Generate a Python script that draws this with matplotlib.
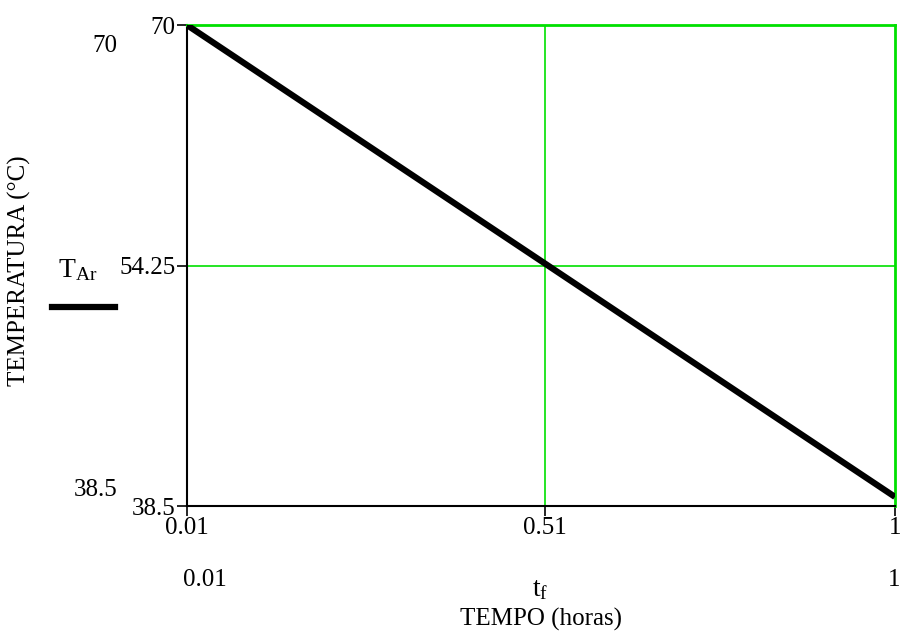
import matplotlib.pyplot as plt

# dados
tempo = [0.01, 0.51, 1.0]
temp_ar = [70.0, 54.4, 39.1]
xticks = [0.01, 0.51, 1]
xlabels = ['0.01', '0.51', '1']
yticks = [38.5, 54.25, 70]
ylabels = ['38.5', '54.25', '70']

plt.rcParams['font.family'] = ['Liberation Serif', 'DejaVu Serif']

fig = plt.figure(figsize=(9.01, 6.39), dpi=100)
ax = fig.add_axes([0.2075, 0.2081, 0.7858, 0.7527])

ax.plot(tempo, temp_ar, color='black', lw=4.5, solid_capstyle='butt', zorder=3)

ax.set_xlim(0.01, 1)
ax.set_ylim(38.5, 70)
ax.set_xticks(xticks)
ax.set_xticklabels(xlabels)
ax.set_yticks(yticks)
ax.set_yticklabels(ylabels)
ax.tick_params(direction='out', length=7, width=1.2, labelsize=18, pad=1)

# grade verde
ax.axvline(0.51, color='#00e000', lw=1.2, zorder=1)
ax.axhline(54.25, color='#00e000', lw=1.2, zorder=1)
ax.spines['top'].set_color('#00e000')
ax.spines['right'].set_color('#00e000')
ax.spines['top'].set_linewidth(2)
ax.spines['right'].set_linewidth(2)
ax.spines['left'].set_linewidth(1.5)
ax.spines['bottom'].set_linewidth(1.5)

# segunda linha de rotulos (estilo Mathcad)
fig.text(0.203, 0.092, '0.01', fontsize=18, ha='left', va='center')
fig.text(0.9995, 0.092, '1', fontsize=18, ha='right', va='center')
fig.text(0.6, 0.078, r'$\mathregular{t_f}$', fontsize=20, ha='center', va='center')
fig.text(0.6, 0.030, 'TEMPO (horas)', fontsize=18, ha='center', va='center')

fig.text(0.130, 0.928, '70', fontsize=18, ha='right', va='center')
fig.text(0.130, 0.233, '38.5', fontsize=18, ha='right', va='center')

fig.text(0.022, 0.577, 'TEMPERATURA (°C)', fontsize=18, rotation=90,
         ha='center', va='center')
fig.text(0.064, 0.578, r'$\mathregular{T_{Ar}}$', fontsize=20, ha='left', va='center')
fig.lines.append(plt.Line2D([0.058, 0.128], [0.519, 0.519], transform=fig.transFigure,
                            color='black', lw=4.5))

fig.savefig('out.png', dpi=100)
